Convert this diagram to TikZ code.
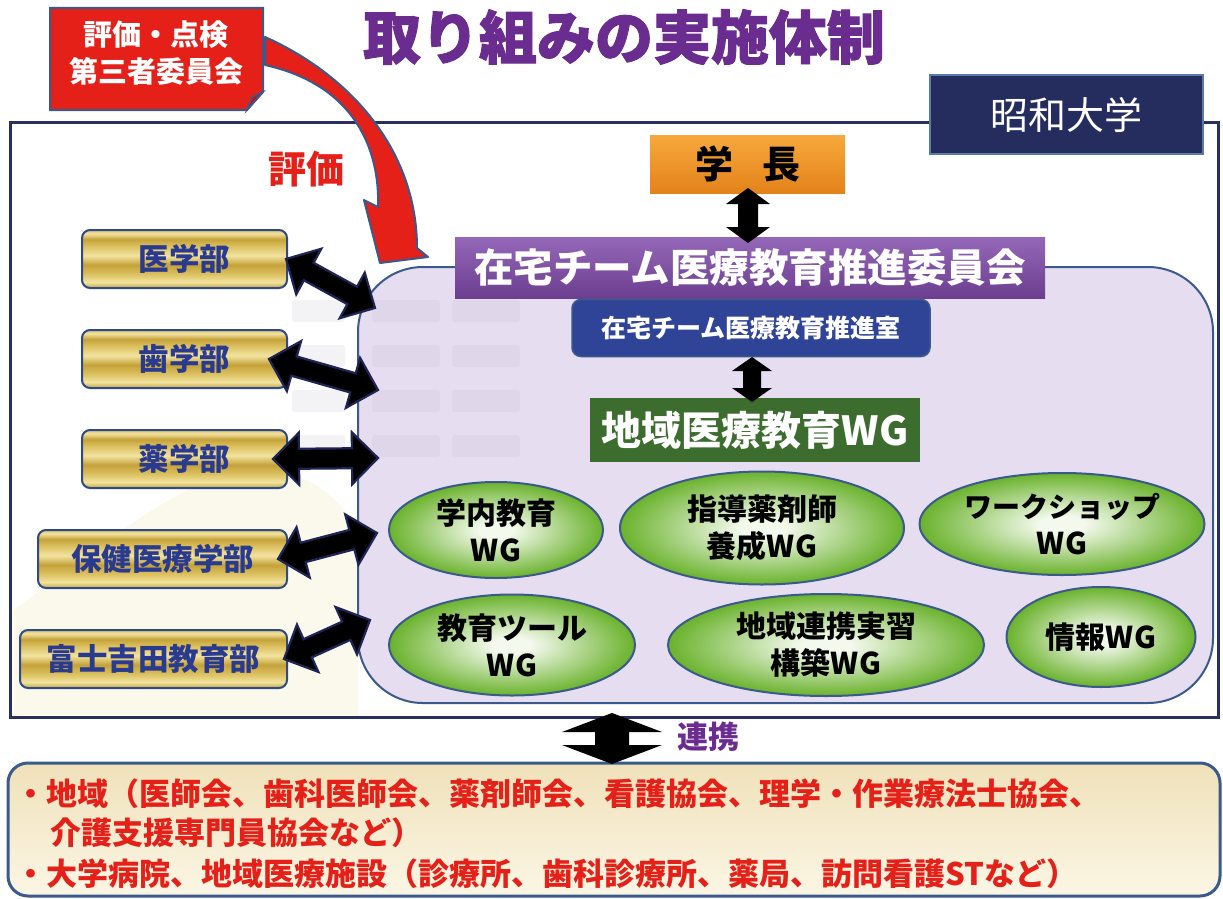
\documentclass[tikz,border=0pt]{standalone}
\usepackage{fontspec}
\setmainfont{Noto Sans CJK JP}
\newfontfamily\heavyfont{Noto Sans CJK JP}[BoldFeatures={FakeBold=1.6}]
\usetikzlibrary{shapes.geometric,calc}

\definecolor{titlepurple}{HTML}{6A2C8E}
\definecolor{frameblue}{HTML}{2A2F60}
\definecolor{lineblue}{HTML}{3A5A8C}
\definecolor{evalred}{HTML}{E52019}
\definecolor{evaldark}{HTML}{B81814}
\definecolor{showanavy}{HTML}{252C5E}
\definecolor{showaline}{HTML}{5A7AAA}
\definecolor{regionfill}{HTML}{E6DDF0}
\definecolor{windowfill}{HTML}{DFD6EA}
\definecolor{ghostwin}{HTML}{F3F3F6}
\definecolor{hillfill}{HTML}{FAF9EB}
\definecolor{deptblue}{HTML}{2A3A8F}
\definecolor{deptline}{HTML}{2E4A8A}
\definecolor{goldD}{HTML}{C5A23A}
\definecolor{goldL}{HTML}{F2E3A0}
\definecolor{goldM}{HTML}{DCC160}
\definecolor{orangeT}{HTML}{F7A83C}
\definecolor{orangeB}{HTML}{E3831A}
\definecolor{purpleT}{HTML}{9467B8}
\definecolor{purpleB}{HTML}{6C3E90}
\definecolor{officeblue}{HTML}{2F4496}
\definecolor{wggreen}{HTML}{3D6C2F}
\definecolor{wgin}{HTML}{F3F9EC}
\definecolor{wgout}{HTML}{6AB22C}
\definecolor{arrowline}{HTML}{1E2556}
\definecolor{beigeT}{HTML}{EFE1B9}
\definecolor{beigeB}{HTML}{FBF6E5}

% gold bar shading with horizontal stripes (path spans 25bp..75bp)
\pgfdeclareverticalshading{goldbar}{100bp}{color(0bp)=(goldD); color(25bp)=(goldD); color(30bp)=(goldL); color(37bp)=(goldM); color(45bp)=(goldD); color(53bp)=(goldL); color(61bp)=(goldM); color(67bp)=(goldD); color(72bp)=(goldL); color(75bp)=(goldM); color(100bp)=(goldM)}
% radial shading for the working-group ellipses
\pgfdeclareradialshading{wgshade}{\pgfpoint{0bp}{0bp}}{color(0bp)=(wgin); color(4bp)=(wgin); color(25bp)=(wgout); color(50bp)=(wgout)}

% double-headed block arrow: start, end, shaft half width, head half width, head length, style
\newcommand\dblarrow[6]{%
  \path let \p1=(#1), \p2=(#2), \n1={atan2(\y2-\y1,\x2-\x1)}, \n2={veclen(\x2-\x1,\y2-\y1)} in
    \pgfextra{\xdef\arAng{\n1}\xdef\arLen{\n2}};
  \begin{scope}[shift={(#1)}, rotate=\arAng, x=1pt, y=1pt]
    \filldraw[#6] (0,0) -- (#5,#4) -- (#5,#3) -- (\arLen-#5,#3) -- (\arLen-#5,#4) -- (\arLen,0)
      -- (\arLen-#5,-#4) -- (\arLen-#5,-#3) -- (#5,-#3) -- (#5,-#4) -- cycle;
  \end{scope}}

\tikzset{
  deptbox/.style={draw=deptline, line width=2pt, rounded corners=8pt, shade, shading=goldbar,
    minimum height=58pt, text=deptblue, font=\fontsize{30.5}{32}\selectfont\bfseries, inner sep=0pt},
  wgell/.style={ellipse, draw=lineblue, line width=2pt, shade, shading=wgshade, inner sep=0pt,
    align=center, font=\fontsize{30}{37}\selectfont\bfseries, text=black},
  blockarrow/.style={fill=black, draw=arrowline, line width=2.2pt, line join=miter},
  plainarrow/.style={fill=black, draw=none},
}

\begin{document}
\begin{tikzpicture}[x=1pt,y=-1pt]
\useasboundingbox (0,0) rectangle (1223,899);
\fill[white] (0,0) rectangle (1223,899);

% faint scenery inside the university frame
\fill[hillfill] (14,715) -- (14,610) .. controls (110,540) and (190,470) .. (260,470)
  .. controls (310,470) and (340,500) .. (358,530) -- (358,715) -- cycle;
\foreach \yy in {300,345,390,435} {
  \fill[ghostwin, rounded corners=3pt] (292,\yy) rectangle (345,\yy+22);
}

% university frame
\draw[frameblue, line width=3pt] (10,122) rectangle (1218,717);

% committee region
\draw[lineblue, line width=2pt, fill=regionfill, rounded corners=65pt] (358,267) rectangle (1213,703);
\foreach \yy in {300,345,390,435} {
  \fill[windowfill, rounded corners=3pt] (372,\yy) rectangle (440,\yy+22);
  \fill[windowfill, rounded corners=3pt] (452,\yy) rectangle (520,\yy+22);
}

% title
\node[text=titlepurple, font=\heavyfont\fontsize{58}{60}\selectfont\bfseries] (title) at (624,37) {取り組みの実施体制};

% university label
\node[fill=showanavy, draw=showaline, line width=2pt, minimum width=273pt, minimum height=79pt,
  text=white, font=\fontsize{38}{40}\selectfont] (showa) at (1066,114.5) {昭和大学};

% faculties
\node[deptbox, minimum width=205pt] (med)    at (184.5,259) {医学部};
\node[deptbox, minimum width=205pt] (dent)   at (184.5,359) {歯学部};
\node[deptbox, minimum width=205pt] (phar)   at (184.5,459) {薬学部};
\node[deptbox, minimum width=249pt] (health) at (162.5,559) {保健医療学部};
\node[deptbox, minimum width=267pt] (fuji)   at (153.5,659) {富士吉田教育部};

% leadership chain
\node[top color=orangeT, bottom color=orangeB, minimum width=195pt, minimum height=58pt,
  font=\fontsize{38}{40}\selectfont\bfseries, text=black] (pres) at (747.5,164) {学\hspace{29pt}長};
\node[top color=purpleT, bottom color=purpleB, minimum width=590pt, minimum height=61pt,
  font=\fontsize{39.5}{41}\selectfont\bfseries, text=white] (comm) at (750,267.5) {在宅チーム医療教育推進委員会};
\node[fill=officeblue, draw=lineblue, line width=1.5pt, rounded corners=9pt, minimum width=358pt,
  minimum height=57pt, font=\fontsize{25}{27}\selectfont\bfseries, text=white] (office) at (751,328) {在宅チーム医療教育推進室};
\node[fill=wggreen, minimum width=330pt, minimum height=64pt,
  font=\fontsize{40}{42}\selectfont\bfseries, text=white] (regwg) at (755,430) {地域医療教育WG};

% working groups
\node[wgell, minimum width=214pt, minimum height=96pt]  (wg1) at (496,530) {学内教育\\WG};
\node[wgell, minimum width=284pt, minimum height=113pt] (wg2) at (762,528) {指導薬剤師\\養成WG};
\node[wgell, minimum width=285pt, minimum height=102pt] (wg3) at (1062,524) {\fontsize{28}{37}\selectfont ワークショップ\\WG};
\node[wgell, minimum width=246pt, minimum height=101pt] (wg4) at (512,645) {教育ツール\\WG};
\node[wgell, minimum width=316pt, minimum height=102pt] (wg5) at (826,645) {地域連携実習\\構築WG};
\node[wgell, minimum width=189pt, minimum height=100pt] (wg6) at (1101,637) {情報WG};

% vertical links in the chain
\coordinate (presS)   at (748,188);
\coordinate (commN)   at (748,243);
\coordinate (officeS) at (752,357);
\coordinate (regwgN)  at (752,402);
\dblarrow{presS}{commN}{10}{22}{16}{plainarrow}
\dblarrow{officeS}{regwgN}{9}{20}{14}{plainarrow}

% faculty links to the committee region
\coordinate (medE)    at ([xshift=-2pt]med.east);
\coordinate (dentE)   at ([xshift=-19pt]dent.east);
\coordinate (pharE)   at ([xshift=-15pt]phar.east);
\coordinate (healthE) at ([xshift=-10pt]health.east);
\coordinate (fujiE)   at ([xshift=-4pt]fuji.east);
\coordinate (regA) at (375,308);
\coordinate (regB) at (378,390);
\coordinate (regC) at (378,458);
\coordinate (regD) at (377,533);
\coordinate (regE) at (370,620);
\dblarrow{medE}{regA}{10}{26}{26}{blockarrow}
\dblarrow{dentE}{regB}{10}{26}{26}{blockarrow}
\dblarrow{pharE}{regC}{10}{26}{26}{blockarrow}
\dblarrow{healthE}{regD}{10}{26}{26}{blockarrow}
\dblarrow{fujiE}{regE}{10}{26}{26}{blockarrow}

% external evaluation committee and its curved arrow
\filldraw[fill=evalred, draw=lineblue, line width=2pt, line join=round]
  (265,37) .. controls (350,75) and (417,150) .. (417,248) -- (428,257) -- (380,263)
  -- (364,200) -- (378,207) .. controls (380,150) and (355,85) .. (265,65) -- cycle;
\filldraw[fill=evalred, draw=lineblue, line width=2pt]
  (50,8) -- (263,8) -- (263,92) -- (247,110) -- (50,110) -- cycle;
\filldraw[fill=evaldark, draw=lineblue, line width=1.5pt] (263,92) -- (252,97) -- (247,110) -- cycle;
\node[text=white, align=center, font=\fontsize{29}{37}\selectfont\bfseries] (evalbox) at (156,53)
  {評価・点検\\第三者委員会};
\node[text=evalred, font=\fontsize{38}{40}\selectfont\bfseries] (evallabel) at (306,169) {評価};

% partners outside the university
\node[draw=lineblue, line width=3pt, rounded corners=20pt, top color=beigeT, bottom color=beigeB,
  minimum width=1212pt, minimum height=133pt] (partners) at (614,829.5) {};
\node[anchor=west, text=evalred, font=\fontsize{31}{33}\selectfont\bfseries] (pline1) at (12,794)
  {・地域（医師会、歯科医師会、薬剤師会、看護協会、理学・作業療法士協会、};
\node[anchor=west, text=evalred, font=\fontsize{31}{33}\selectfont\bfseries] (pline2) at (47,833)
  {介護支援専門員協会など）};
\node[anchor=west, text=evalred, font=\fontsize{31}{33}\selectfont\bfseries] (pline3) at (12,874)
  {・大学病院、地域医療施設（診療所、歯科診療所、薬局、訪問看護STなど）};

% cooperation link
\coordinate (frameS)    at (612,713);
\coordinate (partnersN) at (612,764);
\dblarrow{frameS}{partnersN}{17}{50}{19}{plainarrow}
\node[text=titlepurple, font=\fontsize{31}{33}\selectfont\bfseries] (linklabel) at (708,737) {連携};
\end{tikzpicture}
\end{document}
